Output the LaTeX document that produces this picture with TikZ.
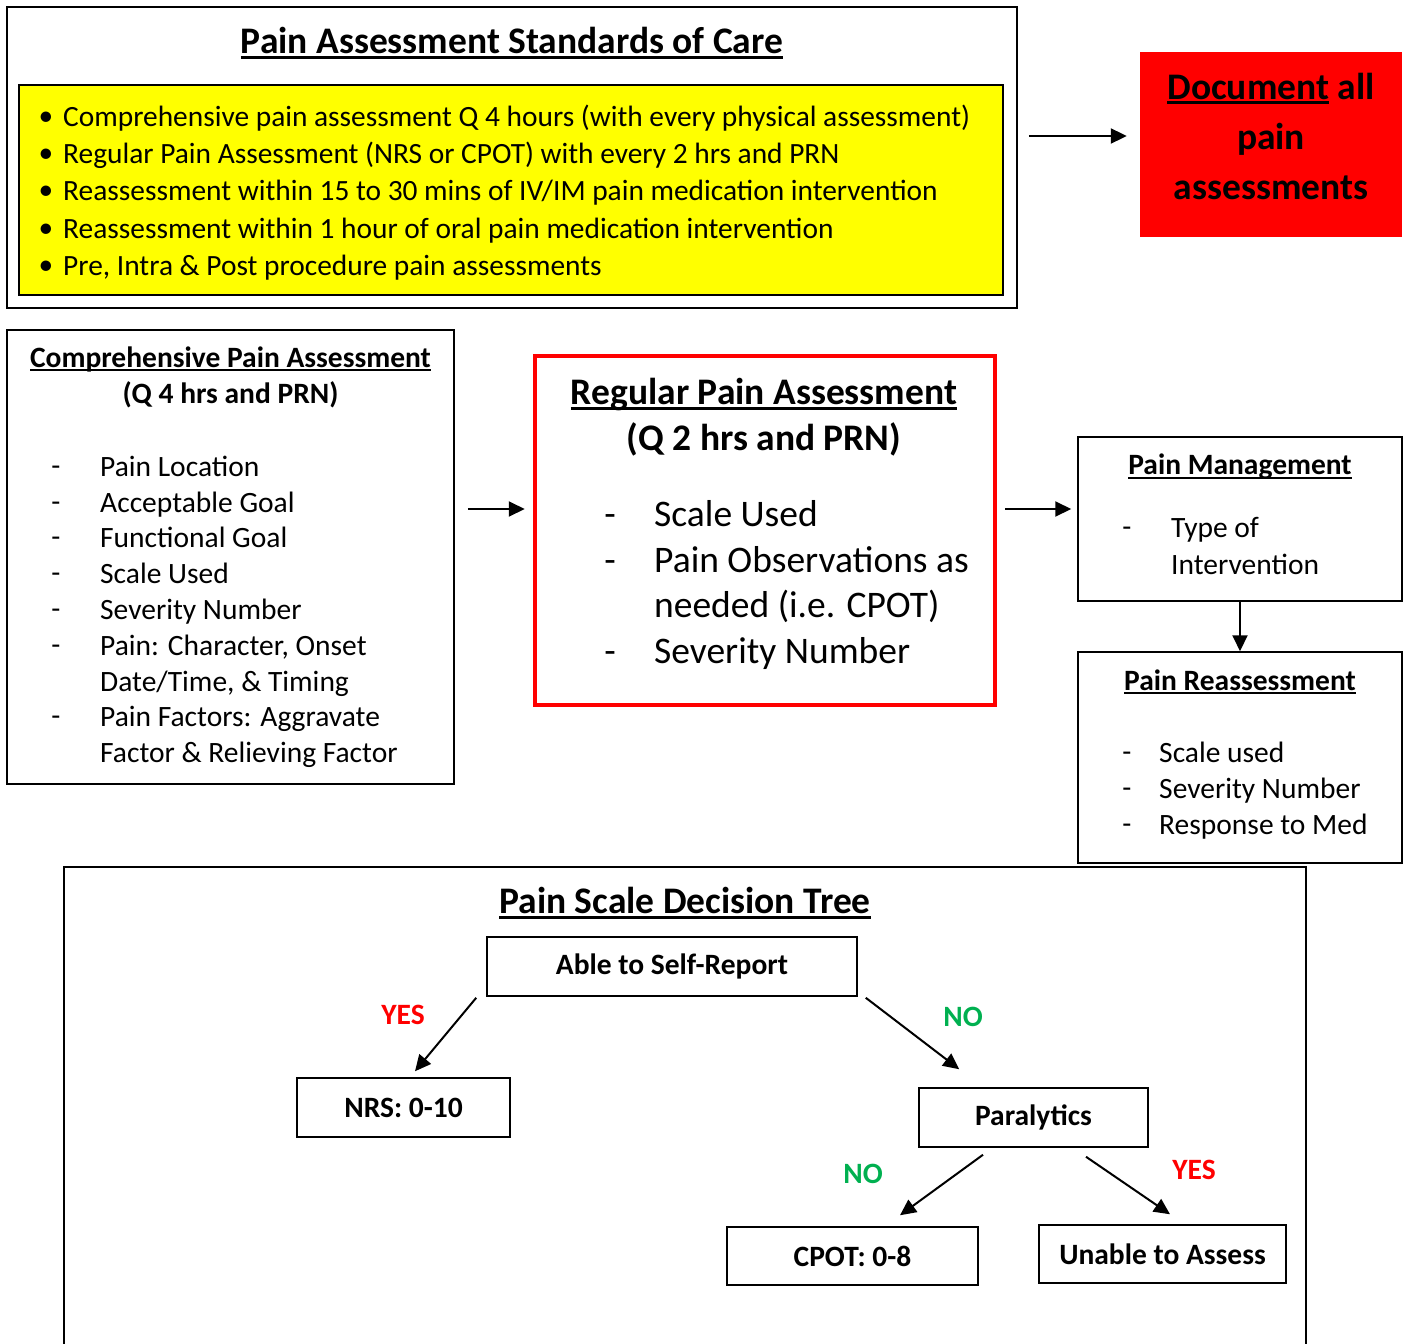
\documentclass[tikz,border=0pt]{standalone}
\usepackage{fontspec}
\setmainfont{Carlito}
\usetikzlibrary{arrows.meta,calc}
\definecolor{docred}{RGB}{255,0,0}
\definecolor{stdyellow}{RGB}{255,255,0}
\definecolor{nogreen}{RGB}{0,176,80}
\newcommand\ulbox[1]{\setbox0=\hbox{#1}\rlap{\rule[-0.13em]{\wd0}{0.07em}}\box0\relax}

\tikzset{
	box/.style={draw, line width=1.5pt, inner sep=0pt},
	arr/.style={-{Triangle[length=16pt,width=15pt]}, line width=2pt},
	bigb/.style={font=\fontsize{37.5}{50}\selectfont\bfseries, inner sep=0pt},
	bigr/.style={font=\fontsize{37.5}{46}\selectfont, inner sep=0pt},
	medr/.style={font=\fontsize{29.4}{37}\selectfont, inner sep=0pt},
	smlb/.style={font=\fontsize{29.5}{36}\selectfont\bfseries, inner sep=0pt},
	smlr/.style={font=\fontsize{29.5}{36}\selectfont, inner sep=0pt},
	txt/.style={anchor=west, text height=0.7em, text depth=0.25em, yshift=-8pt},
}

\begin{document}
\begin{tikzpicture}[x=1pt, y=-1pt]
			%%%%% START %%%%%
			\useasboundingbox (0,0) rectangle (1406,1344);
			
			% standards of care
			\node[box, minimum width=1010pt, minimum height=301pt] (std) at (512,157.5) {};
			\node[bigb] (stdtitle) at (512,43) {\ulbox{Pain Assessment Standards of Care}};
			\node[box, fill=stdyellow, minimum width=984pt, minimum height=210pt] (stdlist) at (511,190) {};
			\foreach \y/\t in {116/{Comprehensive pain assessment Q 4 hours (with every physical assessment)},
					153/{Regular Pain Assessment (NRS or CPOT) with every 2 hrs and PRN},
					190/{Reassessment within 15 to 30 mins of IV/IM pain medication intervention},
					228/{Reassessment within 1 hour of oral pain medication intervention},
					265/{Pre, Intra \& Post procedure pain assessments}} {
				\node[medr, yshift=-3pt] (sbul\y) at (46,\y) {\textbullet};
				\node[medr, txt] (sitem\y) at (63,\y) {\t};
			}
			
			% document all
			\node[fill=docred, minimum width=262pt, minimum height=185pt, inner sep=0pt] (doc) at (1271,144.5) {};
			\node[bigb, align=center] (doctext) at (1271,136) {\ulbox{Document} all\\pain\\assessments};
			\draw[arr, shorten <=11pt, shorten >=13pt] (std.east |- doctext) -- (doc.west |- doctext);
			
			% comprehensive
			\node[box, minimum width=447pt, minimum height=454pt] (comp) at (230.5,557) {};
			\node[smlb] (comptitle) at (230.5,359) {\ulbox{Comprehensive Pain Assessment}};
			\node[smlb] (compsub) at (230.5,395) {(Q 4 hrs and PRN)};
			\foreach \y in {466,502,537,573,609,645,716}
				\node[smlr, yshift=-5pt] (cdash\y) at (56,\y) {-};
			\foreach \y/\t in {466/{Pain Location}, 502/{Acceptable Goal}, 537/{Functional Goal},
					573/{Scale Used}, 609/{Severity Number}, 645/{Pain: Character, Onset},
					681/{Date/Time, \& Timing}, 716/{Pain Factors: Aggravate},
					752/{Factor \& Relieving Factor}}
				\node[smlr, txt] (citem\y) at (100,\y) {\t};
			
			% regular
			\node[draw=docred, line width=4.5pt, inner sep=0pt, minimum width=460pt, minimum height=349pt] (reg) at (765,530.5) {};
			\node[bigb] (regtitle) at (764,395) {\ulbox{Regular Pain Assessment}};
			\node[bigb] (regsub) at (764,439) {(Q 2 hrs and PRN)};
			\foreach \y in {513,559,650}
				\node[bigr, yshift=-8pt] (rdash\y) at (610,\y) {-};
			\foreach \y/\t in {513/{Scale Used}, 559/{Pain Observations as},
					604/{needed (i.e. CPOT)}, 650/{Severity Number}}
				\node[bigr, txt, yshift=-3pt] (ritem\y) at (654,\y) {\t};
			
			\coordinate (midrow) at (0,509);
			\draw[arr, shorten <=13pt, shorten >=8pt] (comp.east |- midrow) -- (reg.west |- midrow);
			
			% management
			\node[box, minimum width=324pt, minimum height=164pt] (mgmt) at (1240,519) {};
			\node[smlb] (mgmttitle) at (1240,467) {\ulbox{Pain Management}};
			\node[smlr, yshift=-5pt] (mdash) at (1127,527) {-};
			\node[smlr, txt] (mitem1) at (1171,527) {Type of};
			\node[smlr, txt] (mitem2) at (1171,564) {Intervention};
			\draw[arr, shorten <=8pt, shorten >=6pt] (reg.east |- midrow) -- (mgmt.west |- midrow);
			
			% reassessment
			\node[box, minimum width=324pt, minimum height=211pt] (reass) at (1240,757.5) {};
			\node[smlb] (reasstitle) at (1240,682) {\ulbox{Pain Reassessment}};
			\foreach \y/\t in {752/{Scale used}, 788/{Severity Number}, 824/{Response to Med}} {
				\node[smlr, yshift=-5pt] (adash\y) at (1127,\y) {-};
				\node[smlr, txt] (aitem\y) at (1159,\y) {\t};
			}
			\draw[arr] (mgmt.south) -- (reass.north);
			
			% decision tree
			\draw[line width=1.5pt] (64,1370) -- (64,867) -- (1306,867) -- (1306,1370);
			\node[bigb] (treetitle) at (685,903) {\ulbox{Pain Scale Decision Tree}};
			\node[box, smlb, minimum width=370pt, minimum height=59pt] (able) at (672,966.5) {Able to Self-Report};
			\node[box, smlb, minimum width=213pt, minimum height=59pt] (nrs) at (403.5,1107.5) {NRS: 0-10};
			\node[box, smlb, minimum width=229pt, minimum height=59pt] (para) at (1033.5,1117.5) {Paralytics};
			\node[box, smlb, minimum width=251pt, minimum height=58pt] (cpot) at (852.5,1256) {CPOT: 0-8};
			\node[box, smlb, minimum width=247pt, minimum height=58pt] (unable) at (1162.5,1254) {Unable to Assess};
			
			\draw[arr] ($(able.south west)+(-10,1)$) -- ($(nrs.north)+(11.5,-6)$);
			\draw[arr] ($(able.south east)+(8,1)$) -- ($(para.north west)+(41,-18)$);
			\draw[arr] ($(para.south)+(-50.5,7)$) -- ($(cpot.north)+(47.5,-11)$);
			\draw[arr] ($(para.south)+(52.5,9)$) -- ($(unable.north)+(7.5,-10)$);
			
			\node[smlb, text=docred] (yes1) at (403,1015) {YES};
			\node[smlb, text=nogreen] (no1) at (963,1017) {NO};
			\node[smlb, text=nogreen] (no2) at (863,1174) {NO};
			\node[smlb, text=docred] (yes2) at (1194,1170) {YES};
			%%%%% END %%%%%
\end{tikzpicture}
\end{document}
